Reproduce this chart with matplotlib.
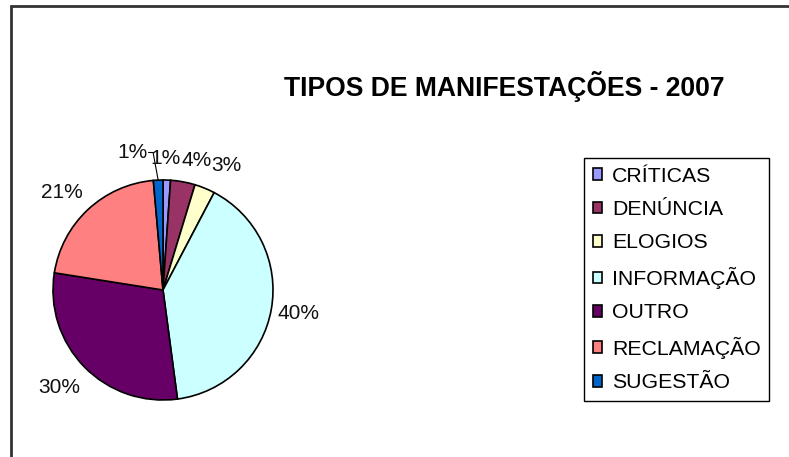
import numpy as np
import matplotlib
matplotlib.use("Agg")
import matplotlib.pyplot as plt
from matplotlib.patches import Rectangle

plt.rcParams["font.family"] = ["Liberation Sans", "DejaVu Sans"]

# data (percent of all manifestations)
categorias = ["CRÍTICAS", "DENÚNCIA", "ELOGIOS", "INFORMAÇÃO",
              "OUTRO", "RECLAMAÇÃO", "SUGESTÃO"]
percentuais = [1.1, 3.6, 3.0, 40.2, 29.6, 21.1, 1.4]
cores = ["#9999FF", "#993366", "#FFFFCC", "#CCFFFF",
         "#660066", "#FF8080", "#0066CC"]
titulo = "TIPOS DE MANIFESTAÇÕES - 2007"

# label placement (pie units, radius = 1) - Excel style nudges
LABEL_POS = [(0.02, 1.20), (0.31, 1.175), (0.58, 1.13), (1.236, -0.21),
             (-0.94, -0.89), (-0.92, 0.89), (-0.28, 1.25)]

W, H = 789, 457
fig = plt.figure(figsize=(W / 100, H / 100), dpi=100)

# pie axes: centre (163, 290) px, radius 110 px
cx, cy, r = 163, 290, 110
ax = fig.add_axes([(cx - r) / W, (H - cy - r) / H, 2 * r / W, 2 * r / H])
wedges, texts, autotexts = ax.pie(
    percentuais, colors=cores, startangle=90, counterclock=False,
    autopct="%.0f%%", pctdistance=1.25, radius=1,
    wedgeprops=dict(edgecolor="black", linewidth=1.2),
    textprops=dict(fontsize=15, color="#111111"))
ax.set_xlim(-1, 1); ax.set_ylim(-1, 1)
ax.set_aspect("equal")
for t, pos in zip(autotexts, LABEL_POS):
    t.set_position(pos)

# leader line for the SUGESTÃO label
w = wedges[-1]
mid = np.deg2rad((w.theta1 + w.theta2) / 2)
lx, ly = LABEL_POS[-1]
ax.plot([lx + 0.15, -0.09, np.cos(mid)], [ly, ly, np.sin(mid)],
        color="black", lw=0.8, clip_on=False)

fig.text(504 / W, 1 - 96 / H, titulo, ha="center", va="baseline",
         fontsize=19.1, fontweight="bold")

leg = fig.legend(wedges, categorias, loc="upper left",
                 bbox_to_anchor=(584 / W, 1 - 158 / H), bbox_transform=fig.transFigure,
                 borderaxespad=0, fontsize=15.3, frameon=True, fancybox=False,
                 edgecolor="black", framealpha=1, handlelength=0.47, handleheight=0.47,
                 handletextpad=0.45, labelspacing=0.68, borderpad=0.4)
leg.get_frame().set_linewidth(1.0)

# chart-area border (only top and left visible in the crop)
fig.add_artist(Rectangle((10.5 / W, -0.1), 1.1, (1 - 6.5 / H) + 0.1,
                         transform=fig.transFigure, fill=False,
                         edgecolor="#333333", linewidth=2))

fig.savefig("out.png", dpi=100)
